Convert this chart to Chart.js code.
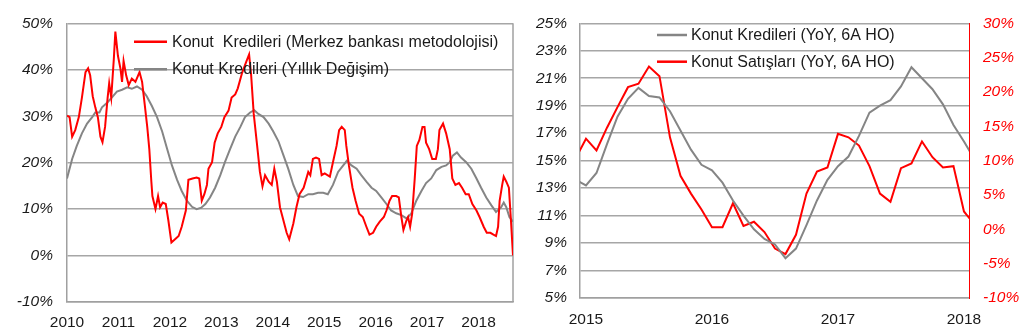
<!DOCTYPE html>
<html>
<head>
<meta charset="utf-8">
<script src="https://cdn.jsdelivr.net/npm/chart.js@4.4.1/dist/chart.umd.min.js"></script>
<style>
  body { margin: 0; background: #fff; }
  #wrap { display: flex; width: 1022px; height: 335px; }
</style>
</head>
<body>
<div id="wrap">
  <canvas id="leftChart" width="518" height="335"></canvas>
  <canvas id="rightChart" width="504" height="335"></canvas>
</div>
<script>
// ---- left chart: konut kredileri, 2010 - 2018 (decimal years) ----
const leftYearTicks = [2010, 2011, 2012, 2013, 2014, 2015, 2016, 2017, 2018];

const mbYears = [
  2010.00, 2010.05, 2010.10, 2010.16, 2010.23, 2010.29, 2010.36, 2010.41, 2010.45, 2010.50,
  2010.55, 2010.60, 2010.65, 2010.69, 2010.74, 2010.79, 2010.82, 2010.86, 2010.91, 2010.94,
  2010.99, 2011.04, 2011.07, 2011.10, 2011.15, 2011.20, 2011.26, 2011.33, 2011.41, 2011.46,
  2011.51, 2011.56, 2011.60, 2011.64, 2011.66, 2011.72, 2011.77, 2011.81, 2011.86, 2011.92,
  2011.97, 2012.03, 2012.10, 2012.17, 2012.23, 2012.31, 2012.36, 2012.44, 2012.52, 2012.57,
  2012.62, 2012.67, 2012.72, 2012.75, 2012.82, 2012.87, 2012.93, 2013.00, 2013.06, 2013.14,
  2013.20, 2013.27, 2013.32, 2013.40, 2013.48, 2013.54, 2013.58, 2013.63, 2013.69, 2013.75,
  2013.80, 2013.85, 2013.92, 2013.98, 2014.03, 2014.08, 2014.14, 2014.27, 2014.32, 2014.40,
  2014.46, 2014.52, 2014.60, 2014.69, 2014.73, 2014.78, 2014.84, 2014.90, 2014.95, 2015.01,
  2015.11, 2015.17, 2015.24, 2015.29, 2015.34, 2015.40, 2015.43, 2015.48, 2015.55, 2015.61,
  2015.68, 2015.75, 2015.82, 2015.88, 2015.95, 2016.01, 2016.08, 2016.16, 2016.21, 2016.27,
  2016.32, 2016.40, 2016.45, 2016.50, 2016.54, 2016.60, 2016.63, 2016.67, 2016.71, 2016.76,
  2016.80, 2016.85, 2016.91, 2016.95, 2016.98, 2017.04, 2017.10, 2017.17, 2017.21, 2017.24,
  2017.31, 2017.37, 2017.44, 2017.49, 2017.55, 2017.62, 2017.68, 2017.75, 2017.81, 2017.88,
  2017.96, 2018.02, 2018.10, 2018.16, 2018.23, 2018.29, 2018.34, 2018.38, 2018.41, 2018.46,
  2018.49, 2018.54, 2018.59, 2018.63, 2018.67
];
const mbValues = [
  30.1, 29.8, 25.6, 27.0, 29.8, 34.0, 39.5, 40.3, 38.8, 34.3,
  31.9, 29.8, 25.6, 24.4, 27.7, 34.0, 37.1, 34.0, 42.3, 48.2,
  43.0, 40.2, 37.4, 41.9, 38.8, 36.7, 38.1, 37.4, 39.5, 37.4,
  32.6, 27.7, 22.9, 15.9, 12.8, 10.0, 12.8, 10.4, 11.4, 11.1,
  7.6, 2.8, 3.5, 4.2, 6.2, 9.7, 16.3, 16.6, 16.8, 16.6,
  11.8, 13.2, 15.2, 18.7, 20.1, 24.3, 26.3, 27.7, 29.8, 31.2,
  34.0, 34.7, 36.0, 39.2, 41.6, 43.3, 38.8, 30.5, 24.3, 18.0,
  14.9, 17.3, 15.9, 15.2, 18.7, 15.9, 10.4, 4.9, 3.5, 6.9,
  10.4, 13.2, 14.6, 18.0, 17.3, 20.8, 21.1, 20.8, 17.3, 17.7,
  17.0, 20.1, 23.6, 27.0, 27.7, 27.0, 23.6, 19.4, 14.6, 11.8,
  9.0, 8.3, 6.2, 4.5, 4.9, 6.2, 7.3, 8.3, 9.7, 11.8,
  12.8, 12.8, 12.5, 8.3, 5.5, 7.6, 8.3, 6.2, 9.0, 16.6,
  23.6, 24.9, 27.7, 27.7, 24.3, 22.9, 20.8, 20.8, 22.9, 27.0,
  28.4, 26.3, 22.9, 16.6, 15.2, 15.6, 14.6, 13.2, 13.2, 11.1,
  9.7, 8.3, 6.2, 4.9, 4.9, 4.5, 4.2, 6.2, 11.8, 15.2,
  17.0, 15.9, 14.6, 7.6, 0.0
];

const yoyYears = [
  2010.00, 2010.10, 2010.19, 2010.29, 2010.39, 2010.49, 2010.55, 2010.63, 2010.68, 2010.78,
  2010.87, 2010.97, 2011.07, 2011.17, 2011.26, 2011.36, 2011.46, 2011.55, 2011.65, 2011.75,
  2011.85, 2011.94, 2012.04, 2012.14, 2012.23, 2012.33, 2012.43, 2012.52, 2012.61, 2012.69,
  2012.78, 2012.88, 2012.98, 2013.07, 2013.17, 2013.27, 2013.37, 2013.46, 2013.56, 2013.64,
  2013.72, 2013.82, 2013.92, 2014.01, 2014.11, 2014.21, 2014.30, 2014.40, 2014.49, 2014.59,
  2014.69, 2014.78, 2014.88, 2014.98, 2015.07, 2015.17, 2015.27, 2015.37, 2015.44, 2015.53,
  2015.63, 2015.72, 2015.82, 2015.92, 2016.01, 2016.11, 2016.21, 2016.30, 2016.40, 2016.50,
  2016.60, 2016.69, 2016.79, 2016.89, 2016.98, 2017.08, 2017.18, 2017.28, 2017.37, 2017.44,
  2017.50, 2017.58, 2017.66, 2017.76, 2017.86, 2017.96, 2018.05, 2018.15, 2018.25, 2018.34,
  2018.44, 2018.49, 2018.54, 2018.60, 2018.67
];
const yoyValues = [
  16.6, 20.8, 23.6, 26.3, 28.4, 29.8, 30.8, 30.8, 31.9, 32.9,
  34.0, 35.3, 35.7, 36.2, 35.9, 36.4, 35.7, 34.3, 32.2, 29.8,
  26.7, 23.2, 19.4, 16.3, 13.9, 11.8, 10.5, 10.0, 10.3, 11.1,
  12.5, 14.6, 17.3, 20.1, 22.9, 25.6, 27.7, 29.8, 30.8, 31.3,
  30.5, 29.8, 28.4, 26.7, 24.6, 21.5, 18.7, 15.2, 12.8, 12.6,
  13.2, 13.2, 13.5, 13.5, 13.2, 15.2, 18.0, 19.4, 20.4, 19.4,
  18.7, 17.3, 15.9, 14.6, 13.9, 12.5, 11.1, 9.7, 9.1, 8.7,
  8.0, 9.0, 11.8, 13.9, 15.6, 16.6, 18.4, 19.1, 19.4, 20.1,
  21.5, 22.2, 21.1, 20.1, 18.7, 16.6, 14.6, 12.5, 10.8, 9.4,
  10.4, 11.4, 10.4, 8.3, 7.3
];

// ---- right chart: monthly, month 0 = Ocak 2015 ----
const rightYearLabels = ['2015', '2016', '2017', '2018'];
const rightMonths = [
  -1, 0, 1, 2, 3, 4, 5, 6, 7, 8, 9, 10, 11,
  12, 13, 14, 15, 16, 17, 18, 19, 20, 21, 22, 23,
  24, 25, 26, 27, 28, 29, 30, 31, 32, 33, 34, 35,
  36, 37
];
const krediYoY = [
  13.6, 13.2, 14.1, 16.2, 18.2, 19.5, 20.3, 19.7, 19.6, 18.6, 17.2, 15.8, 14.7,
  14.3, 13.4, 12.1, 11.0, 10.0, 9.3, 8.9, 7.9, 8.6, 10.3, 12.1, 13.6,
  14.6, 15.3, 16.8, 18.5, 19.0, 19.4, 20.4, 21.8, 21.0, 20.2, 19.1, 17.6,
  16.4, 15.1
];
const satisYoY = [
  10.3, 13.2, 11.5, 14.8, 17.8, 20.7, 21.2, 23.7, 22.3, 13.4, 7.8, 5.2, 2.9,
  0.3, 0.3, 3.8, 0.5, 1.1, -0.4, -2.8, -3.6, -0.8, 5.2, 8.4, 9.0,
  13.9, 13.4, 12.2, 9.2, 5.2, 4.0, 8.9, 9.6, 12.8, 10.5, 9.0, 9.2,
  2.6, 0.7
];

const COLORS = {
  red: '#FF0000',
  grey: '#858585',
  grid: '#A6A6A6',
  axis: '#A0A0A0',
  text: '#1a1a1a'
};
const FONT = 'Liberation Sans';
const FONT_SIZE = 15.5;
const LEGEND_SIZE = 16;

function zip(xs, ys) {
  return xs.map((x, i) => ({ x: x, y: ys[i] }));
}

// legend drawn inside the plot, no box
const insideLegend = {
  id: 'insideLegend',
  afterDraw(chart, args, opts) {
    const ctx = chart.ctx;
    const area = chart.chartArea;
    chart.data.datasets.forEach((ds, i) => {
      const x = area.left + opts.left;
      const y = area.top + opts.rows[i];
      ctx.save();
      ctx.strokeStyle = ds.borderColor;
      ctx.lineWidth = 2.5;
      ctx.beginPath();
      ctx.moveTo(x, y);
      ctx.lineTo(x + opts.sample, y);
      ctx.stroke();
      ctx.fillStyle = COLORS.text;
      ctx.font = LEGEND_SIZE + 'px "' + FONT + '"';
      ctx.textBaseline = 'middle';
      ctx.fillText(ds.label, x + opts.sample + opts.gap, y + 0.5);
      ctx.restore();
    });
  }
};

// right edge of the plot box (left chart only)
const rightEdge = {
  id: 'rightEdge',
  beforeDatasetsDraw(chart, args, opts) {
    if (!opts.color) return;
    const ctx = chart.ctx;
    const a = chart.chartArea;
    ctx.save();
    ctx.strokeStyle = opts.color;
    ctx.lineWidth = 1.5;
    ctx.beginPath();
    ctx.moveTo(a.right, a.top);
    ctx.lineTo(a.right, a.bottom);
    ctx.stroke();
    ctx.restore();
  }
};

const lineDefaults = {
  borderWidth: 2,
  pointRadius: 0,
  tension: 0,
  fill: false
};

new Chart(document.getElementById('leftChart'), {
  type: 'line',
  data: {
    datasets: [
      Object.assign({
        label: 'Konut  Kredileri (Merkez bankası metodolojisi)',
        data: zip(mbYears, mbValues),
        borderColor: COLORS.red
      }, lineDefaults),
      Object.assign({
        label: 'Konut Kredileri (Yıllık Değişim)',
        data: zip(yoyYears, yoyValues),
        borderColor: COLORS.grey
      }, lineDefaults)
    ]
  },
  options: {
    responsive: false,
    animation: false,
    devicePixelRatio: 1,
    layout: { padding: { top: 12, right: 5, bottom: 0, left: 0 } },
    plugins: {
      legend: { display: false },
      tooltip: { enabled: false },
      insideLegend: { left: 67, rows: [18.5, 46], sample: 33, gap: 5 },
      rightEdge: { color: COLORS.axis }
    },
    scales: {
      x: {
        type: 'linear',
        min: 2010,
        max: 2018.67,
        afterBuildTicks: s => { s.ticks = leftYearTicks.map(v => ({ value: v })); },
        afterFit: s => { s.height = 33; },
        grid: { display: false },
        border: { color: COLORS.axis, width: 1.5 },
        ticks: {
          autoSkip: false,
          maxRotation: 0,
          padding: 3,
          color: COLORS.text,
          font: { family: FONT, size: FONT_SIZE },
          callback: v => String(v)
        }
      },
      y: {
        min: -10,
        max: 50,
        afterFit: s => { s.width = 67; },
        grid: { color: COLORS.grid, lineWidth: 1.5, drawTicks: false },
        border: { color: COLORS.axis, width: 1.5 },
        ticks: {
          stepSize: 10,
          padding: 14,
          color: COLORS.text,
          font: { family: FONT, size: FONT_SIZE, style: 'italic' },
          callback: v => v + '%'
        }
      }
    }
  },
  plugins: [insideLegend, rightEdge]
});

new Chart(document.getElementById('rightChart'), {
  type: 'line',
  data: {
    datasets: [
      Object.assign({
        label: 'Konut Kredileri (YoY, 6A HO)',
        data: zip(rightMonths, krediYoY),
        borderColor: COLORS.grey,
        yAxisID: 'y'
      }, lineDefaults),
      Object.assign({
        label: 'Konut Satışları (YoY, 6A HO)',
        data: zip(rightMonths, satisYoY),
        borderColor: COLORS.red,
        yAxisID: 'y2'
      }, lineDefaults)
    ]
  },
  options: {
    responsive: false,
    animation: false,
    devicePixelRatio: 1,
    layout: { padding: { top: 13, right: 0, bottom: 0, left: 0 } },
    plugins: {
      legend: { display: false },
      tooltip: { enabled: false },
      insideLegend: { left: 77, rows: [11.7, 38.4], sample: 30, gap: 4 },
      rightEdge: {}
    },
    scales: {
      x: {
        type: 'linear',
        min: -0.57,
        max: 36.48,
        afterBuildTicks: s => { s.ticks = rightYearLabels.map((l, i) => ({ value: i * 12 })); },
        afterFit: s => { s.height = 37; },
        grid: { display: false },
        border: { color: COLORS.axis, width: 1.5 },
        ticks: {
          autoSkip: false,
          maxRotation: 0,
          padding: 4,
          color: COLORS.text,
          font: { family: FONT, size: FONT_SIZE },
          callback: v => rightYearLabels[Math.round(v / 12)]
        }
      },
      y: {
        position: 'left',
        min: 5,
        max: 25,
        afterFit: s => { s.width = 62; },
        grid: { color: COLORS.grid, lineWidth: 1.5, drawTicks: false },
        border: { color: COLORS.axis, width: 1.5 },
        ticks: {
          stepSize: 2,
          padding: 13,
          color: COLORS.text,
          font: { family: FONT, size: FONT_SIZE, style: 'italic' },
          callback: v => v + '%'
        }
      },
      y2: {
        position: 'right',
        min: -10,
        max: 30,
        afterFit: s => { s.width = 53; },
        grid: { drawOnChartArea: false, drawTicks: false },
        border: { color: COLORS.red, width: 1 },
        ticks: {
          stepSize: 5,
          padding: 14,
          color: COLORS.red,
          font: { family: FONT, size: FONT_SIZE, style: 'italic' },
          callback: v => v + '%'
        }
      }
    }
  },
  plugins: [insideLegend, rightEdge]
});
</script>
</body>
</html>
